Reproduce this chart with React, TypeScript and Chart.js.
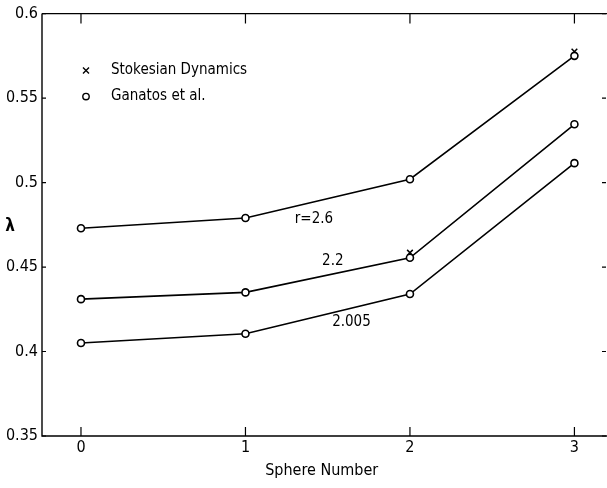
import React, { useEffect, useRef } from "react";
import { Chart, registerables } from "chart.js";

Chart.register(...registerables);

const sphereNumbers = [0, 1, 2, 3];
const xTicks = [0, 1, 2, 3];
const yTicks = [0.35, 0.4, 0.45, 0.5, 0.55, 0.6];

// Ganatos et al. (circles, joined by lines)
const ganatos26 = [0.473, 0.479, 0.502, 0.575];
const ganatos22 = [0.431, 0.435, 0.4555, 0.5345];
const ganatos2005 = [0.405, 0.4105, 0.434, 0.5115];

// Stokesian Dynamics (crosses)
const stokesian26 = [0.473, 0.479, 0.502, 0.5775];
const stokesian22 = [0.431, 0.435, 0.4585, 0.5345];
const stokesian2005 = [0.405, 0.4105, 0.434, 0.5115];

const curveLabels = ["r=2.6", "2.2", "2.005"];
const curveLabelAt: [number, number][] = [
  [1.3, 0.4785],
  [1.466, 0.4535],
  [1.527, 0.4172],
];

const legendItems = ["Stokesian Dynamics", "Ganatos et al."];

const FONT = "'Liberation Sans Narrow', 'DejaVu Sans Condensed', 'Noto Sans', sans-serif";

const toPoints = (ys: number[]) => sphereNumbers.map((x, i) => ({ x, y: ys[i] }));

const lineSet = (ys: number[]) => ({
  data: toPoints(ys),
  showLine: true,
  borderColor: "#000",
  borderWidth: 1.6,
  pointStyle: "circle" as const,
  pointRadius: 3.5,
  pointBorderWidth: 1.6,
  pointBorderColor: "#000",
  pointBackgroundColor: "#fff",
});

const crossSet = (ys: number[]) => ({
  data: toPoints(ys),
  showLine: false,
  pointStyle: "crossRot" as const,
  pointRadius: 4,
  pointBorderWidth: 1.5,
  pointBorderColor: "#000",
  borderColor: "#000",
});

const decorations = {
  id: "decorations",
  afterDraw(chart: any) {
    const { ctx, chartArea, scales } = chart;
    const { left, top, bottom } = chartArea;
    const xs = scales.x;
    const ys = scales.y;
    const w = chart.width;
    ctx.save();
    ctx.strokeStyle = "#000";
    ctx.lineWidth = 1.4;

    // frame: left, bottom and top edges, running to the canvas edge
    ctx.beginPath();
    ctx.moveTo(left, top);
    ctx.lineTo(left, bottom);
    ctx.lineTo(w, bottom);
    ctx.moveTo(left, top);
    ctx.lineTo(w, top);
    ctx.stroke();

    // inward ticks on the x axis, top and bottom
    ctx.lineWidth = 1.2;
    xTicks.forEach((v) => {
      const px = xs.getPixelForValue(v);
      ctx.beginPath();
      ctx.moveTo(px, bottom);
      ctx.lineTo(px, bottom - 9);
      ctx.moveTo(px, top);
      ctx.lineTo(px, top + 10);
      ctx.stroke();
    });
    // short ticks on the y axis, left and right
    yTicks.forEach((v) => {
      const py = ys.getPixelForValue(v);
      ctx.beginPath();
      ctx.moveTo(left, py);
      ctx.lineTo(left + 4, py);
      ctx.moveTo(w - 1, py);
      ctx.lineTo(w - 5, py);
      ctx.stroke();
    });

    // curve labels
    ctx.fillStyle = "#000";
    ctx.font = `15px ${FONT}`;
    ctx.textAlign = "left";
    ctx.textBaseline = "middle";
    curveLabels.forEach((t, i) => {
      const [vx, vy] = curveLabelAt[i];
      ctx.fillText(t, xs.getPixelForValue(vx), ys.getPixelForValue(vy));
    });

    // legend
    const lx = left + 44;
    const ly0 = top + 57;
    legendItems.forEach((t, i) => {
      const y = ly0 + i * 26;
      ctx.lineWidth = 1.4;
      ctx.beginPath();
      if (i === 0) {
        ctx.moveTo(lx - 3, y - 3);
        ctx.lineTo(lx + 3, y + 3);
        ctx.moveTo(lx + 3, y - 3);
        ctx.lineTo(lx - 3, y + 3);
      } else {
        ctx.arc(lx, y, 3.2, 0, Math.PI * 2);
      }
      ctx.stroke();
      ctx.font = `15px ${FONT}`;
      ctx.fillText(t, lx + 25, y);
    });

    // y axis symbol
    ctx.font = `bold 17px ${FONT}`;
    ctx.textAlign = "center";
    ctx.fillText("λ", 10, ys.getPixelForValue(0.474));
    ctx.restore();
  },
};

export default function App() {
  const ref = useRef<HTMLCanvasElement>(null);

  useEffect(() => {
    document.body.style.margin = "0";
    document.body.style.background = "#fff";
    const canvas = ref.current;
    if (!canvas) return;
    const chart = new Chart(canvas, {
      type: "scatter",
      data: {
        datasets: [
          lineSet(ganatos26),
          lineSet(ganatos22),
          lineSet(ganatos2005),
          crossSet(stokesian26),
          crossSet(stokesian22),
          crossSet(stokesian2005),
        ],
      },
      options: {
        animation: false,
        responsive: false,
        devicePixelRatio: 1,
        layout: { padding: { top: 12, right: 0, left: 0, bottom: 8 } },
        plugins: {
          legend: { display: false },
          tooltip: { enabled: false },
        },
        scales: {
          x: {
            type: "linear",
            min: -0.237,
            max: 3.164,
            afterBuildTicks: (s: any) => {
              s.ticks = xTicks.map((value) => ({ value }));
            },
            afterFit: (s: any) => {
              s.height = 44;
            },
            grid: { display: false, drawTicks: false },
            border: { display: false },
            ticks: {
              color: "#000",
              padding: 2,
              font: { family: FONT, size: 16 },
              callback: (v: any) => String(v),
            },
            title: {
              display: true,
              text: "Sphere Number",
              color: "#000",
              font: { family: FONT, size: 16 },
              padding: { top: 2, bottom: 0 },
            },
          },
          y: {
            type: "linear",
            min: 0.35,
            max: 0.6,
            afterBuildTicks: (s: any) => {
              s.ticks = yTicks.map((value) => ({ value }));
            },
            afterFit: (s: any) => {
              s.width = 42;
            },
            grid: { display: false, drawTicks: false },
            border: { display: false },
            ticks: {
              color: "#000",
              padding: 4,
              font: { family: FONT, size: 16 },
              callback: (v: any) => String(Number(Number(v).toFixed(2))),
            },
          },
        },
      },
      plugins: [decorations],
    });
    return () => chart.destroy();
  }, []);

  return (
    <div style={{ width: 607, height: 488, background: "#fff" }}>
      <canvas ref={ref} width={607} height={488} />
    </div>
  );
}
